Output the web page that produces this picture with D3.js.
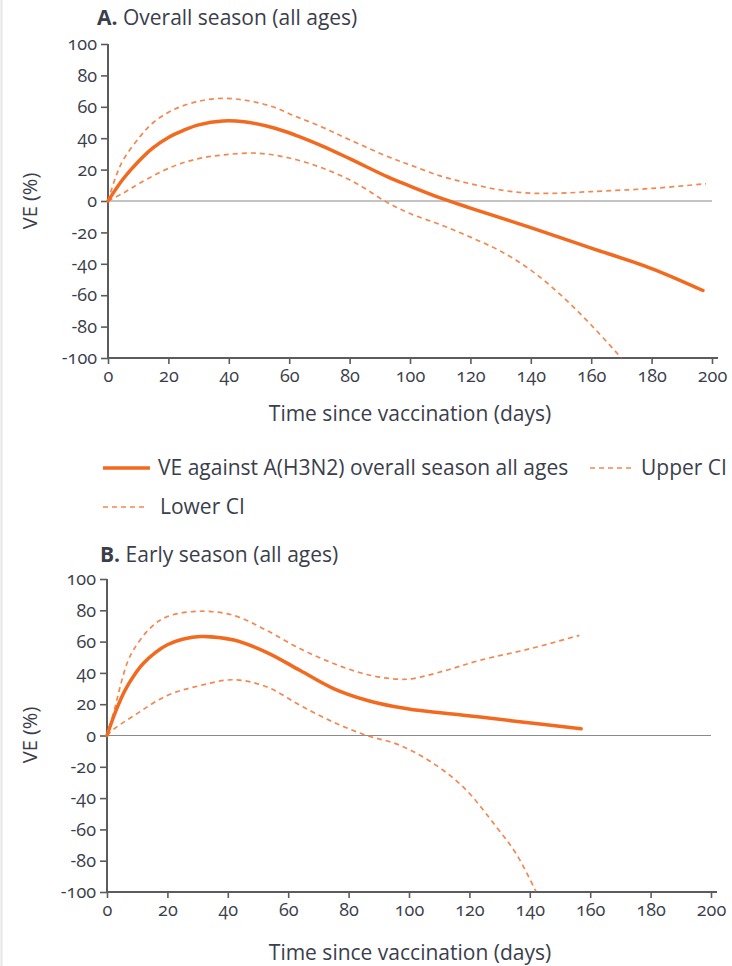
<!DOCTYPE html>
<html><head><meta charset="utf-8">
<script src="https://cdn.jsdelivr.net/npm/d3@7"></script>
<style>
body{margin:0;background:#fff;}
svg text{font-family:"Open Sans","Noto Sans",sans-serif;fill:#3b3e4b;}
.tick text{font-variant-numeric:oldstyle-nums;font-feature-settings:"onum" 1;}
</style></head><body>
<svg id="c" width="732" height="966"></svg>
<script>
// ---- data ----
const xTicks = [0,20,40,60,80,100,120,140,160,180,200];
const yTicks = [-100,-80,-60,-40,-20,0,20,40,60,80,100];
const titleLetters = ["A.", "B."];
const titleTexts = [" Overall season (all ages)", " Early season (all ages)"];
const xLabel = "Time since vaccination (days)";
const yLabel = "VE (%)";
const legendLabels = ["VE against A(H3N2) overall season all ages", "Upper CI", "Lower CI"];

// Panel A: overall season
const aMainDays = [0,5,10,15,20,25,30,38,45,55,62,71,80,93,100,110,120,140,160,180,197];
const aMainVE   = [0,14,25,34,40.5,45,48.5,51,50.5,46.5,42,35,27,15,9.5,2,-4.5,-17,-30,-43,-57];
const aUpperDays = [0,2.5,5,10.6,15,21.5,30,38,46,54.6,62,71,80,93,100,110,120,130,140,150,160,180,198];
const aUpperVE   = [0,15,26,41,50,58,63.5,65.4,64,60,54,47,39,28,23,16,11,7,5,5,6,8,11];
const aLowerDays = [0,5,10.6,21.5,30,38,49,60,71,82,92,100,110,120,130,140,150,160,170];
const aLowerVE   = [0,5,11.5,22,27,29.3,30.5,27.4,21,11.5,-0.4,-8,-15,-23,-32,-44,-60,-79,-100];

// Panel B: early season
const bMainDays = [0,3,6,9,12,16,20,25,31,42,53,64,75,86,95,101.4,118,134.4,157];
const bMainVE   = [0,16,29,38.5,46,53,58,61.5,63.3,61,53,41.5,30,22.5,18.5,16.5,13,9.3,4.3];
const bUpperDays = [0,2.4,4.6,6.8,9,14.5,20,31,42,53,64,75,86,96,101.4,112.4,123.4,140,156.4];
const bUpperVE   = [0,16,33,47,55.4,69,76,79.4,76.7,67,55.4,46,39,36,36.4,41.7,48,55.4,64];
const bLowerDays = [0,2.4,9,20,31,42,53,64,75,86,96,107,118,129,135.5,142];
const bLowerVE   = [0,4.3,12.8,25.6,32,35.6,31,19.2,8.5,0,-5.5,-16.5,-33,-58.6,-75.6,-99.5];

const zip = (d, v) => d.map((x, i) => ({d: x, v: v[i]}));

// ---- style ----
const ORANGE = "#f26a1f";
const ORANGE_D = "#f4874f";
const AXIS = "#5c5c5c";

const svg = d3.select("#c");
svg.append("line").attr("x1",1.5).attr("x2",1.5).attr("y1",0).attr("y2",966)
  .attr("stroke","#e6e6e6").attr("stroke-width",2);

const panels = [
  {xr:[108,712], yr:[358,44], titleX:97, titleY:25, xlabY:421, ylabY:201,
   main: zip(aMainDays,aMainVE), upper: zip(aUpperDays,aUpperVE), lower: zip(aLowerDays,aLowerVE)},
  {xr:[107,711], yr:[892,579], titleX:100, titleY:562, xlabY:960, ylabY:735,
   main: zip(bMainDays,bMainVE), upper: zip(bUpperDays,bUpperVE), lower: zip(bLowerDays,bLowerVE)}
];

panels.forEach((p, i) => {
  const x = d3.scaleLinear().domain([0,200]).range(p.xr);
  const y = d3.scaleLinear().domain([-100,100]).range(p.yr);
  const g = svg.append("g");

  // title
  const t = g.append("text").attr("x", p.titleX).attr("y", p.titleY).style("font-size","21px");
  t.append("tspan").text(titleLetters[i]).style("font-weight","bold");
  t.append("tspan").text(titleTexts[i]);

  // zero line
  g.append("line").attr("x1", x(0)).attr("x2", x(200)).attr("y1", y(0)).attr("y2", y(0))
    .attr("stroke","#8a8a8a").attr("stroke-width",1.2);

  // axes
  const fmt = d => String(d);
  const xa = g.append("g").attr("transform",`translate(0,${y(-100)})`)
    .call(d3.axisBottom(x).tickValues(xTicks).tickFormat(fmt).tickSize(6).tickSizeOuter(0).tickPadding(5));
  const ya = g.append("g").attr("transform",`translate(${x(0)},0)`)
    .call(d3.axisLeft(y).tickValues(yTicks).tickFormat(fmt).tickSize(7).tickSizeOuter(0).tickPadding(4));
  [xa, ya].forEach(a => {
    a.selectAll("path.domain").remove();
    a.selectAll(".tick line").attr("stroke", AXIS).attr("stroke-width",1.6);
    a.selectAll(".tick text").style("font-size","18px").attr("fill","#3b3e4b")
      .style("font-family","'Open Sans',sans-serif").style("font-weight","500");
  });
  // axis lines
  g.append("line").attr("x1", x(0)).attr("x2", x(200)+6).attr("y1", y(-100)).attr("y2", y(-100))
    .attr("stroke", AXIS).attr("stroke-width",2);
  g.append("line").attr("x1", x(0)).attr("x2", x(0)).attr("y1", y(100)).attr("y2", y(-100))
    .attr("stroke", AXIS).attr("stroke-width",2);

  // labels
  g.append("text").attr("x", 410).attr("y", p.xlabY).attr("text-anchor","middle")
    .style("font-size","21px").text(xLabel);
  g.append("text").attr("transform",`translate(37,${p.ylabY}) rotate(-90)`).attr("text-anchor","middle")
    .style("font-size","20px").text(yLabel);

  const line = d3.line().x(d => x(d.d)).y(d => y(d.v)).curve(d3.curveCatmullRom.alpha(0.5));
  g.append("path").datum(p.upper).attr("d", line).attr("fill","none")
    .attr("stroke", ORANGE_D).attr("stroke-width",1.7).attr("stroke-dasharray","5,4");
  g.append("path").datum(p.lower).attr("d", line).attr("fill","none")
    .attr("stroke", ORANGE_D).attr("stroke-width",1.7).attr("stroke-dasharray","5,4");
  g.append("path").datum(p.main).attr("d", line).attr("fill","none")
    .attr("stroke", ORANGE).attr("stroke-width",3.5).attr("stroke-linecap","round");
});

// legend
const lg = svg.append("g");
const legendItems = [
  {x1:103, x2:150, y:468, tx:158, dash:null, w:3.6, c:ORANGE},
  {x1:590, x2:634, y:468, tx:641, dash:"5,4", w:1.5, c:ORANGE_D},
  {x1:103, x2:145, y:507, tx:160, dash:"5,4", w:1.5, c:ORANGE_D}
];
legendItems.forEach((it, i) => {
  lg.append("line").attr("x1",it.x1).attr("x2",it.x2).attr("y1",it.y).attr("y2",it.y)
    .attr("stroke",it.c).attr("stroke-width",it.w).attr("stroke-dasharray",it.dash);
  lg.append("text").attr("x",it.tx).attr("y",it.y+7).style("font-size","21px").text(legendLabels[i]);
});
</script>
</body></html>
